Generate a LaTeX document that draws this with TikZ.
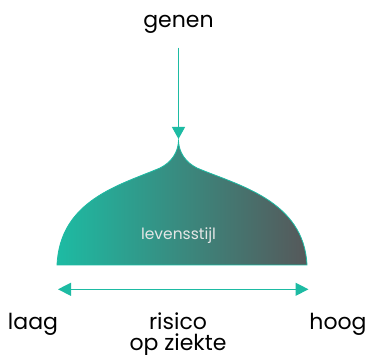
\documentclass[tikz,border=0pt]{standalone}
\usepackage{fontspec}
\setmainfont{Poppins}
\usetikzlibrary{arrows.meta}
\definecolor{teal}{HTML}{1DBBA3}
\definecolor{slate}{HTML}{56585A}
\definecolor{paletext}{HTML}{E4E6E6}
\tikzset{
  label/.style={inner sep=0pt, anchor=base, font=\fontsize{22}{22}\selectfont, text=black},
  arr/.style={draw=teal, line width=1.3pt, -{Triangle[length=12pt,width=13pt]}},
  darr/.style={draw=teal, line width=1.3pt, {Triangle[length=13pt,width=13pt]}-{Triangle[length=13pt,width=13pt]}},
}
\begin{document}
\begin{tikzpicture}[x=1pt,y=-1pt]
  \useasboundingbox (0,0) rectangle (373,355);
  % onion-shaped dome with a teal-to-slate gradient
  \path[shade, left color=teal, right color=slate, draw=teal, line width=0.8pt]
    (57,265) .. controls (60,200) and (120,185) .. (160,168)
    .. controls (172,162) and (178,152) .. (178.5,141)
    .. controls (179,152) and (185,162) .. (197,168)
    .. controls (237,185) and (304,200) .. (307,265) -- cycle;
  \node[inner sep=0pt, text=paletext, font=\fontsize{15.5}{15.5}\selectfont] (life) at (178.5,236) {levensstijl};

  % labels
  \node[label] (genes) at (178.5,28) {genen};
  \node[label] (low) at (33,330) {laag};
  \node[label] (risk) at (178,330) {risico};
  \node[label] (risk2) at (178,351) {op ziekte};
  \node[label] (high) at (338,330) {hoog};

  % connectors
  \coordinate (top) at (178.5,47.7);
  \coordinate (tip) at (178.5,139);
  \draw[arr] (top) -- (tip);
  \coordinate (lo) at (58,289.3);
  \coordinate (hi) at (308.5,289.3);
  \draw[darr] (lo) -- (hi);
\end{tikzpicture}
\end{document}
